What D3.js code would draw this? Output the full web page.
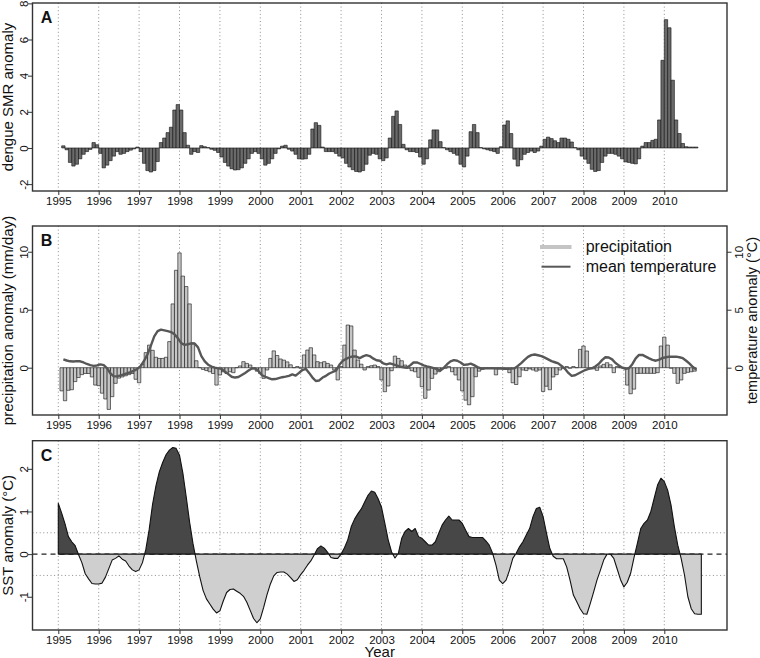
<!DOCTYPE html>
<html><head><meta charset="utf-8">
<script src="https://cdn.jsdelivr.net/npm/d3@7"></script>
<style>
html,body{margin:0;padding:0;background:#fff;}
svg{display:block;font-family:"Liberation Sans",Arial,Helvetica,sans-serif;}
</style></head><body>
<svg id="chart" width="760" height="658"></svg>
<script>
// ---------- DATA ----------
const yearTicks = [1995,1996,1997,1998,1999,2000,2001,2002,2003,2004,2005,2006,2007,2008,2009,2010];
const ticksA = [-2,0,2,4,6,8];
const ticksB = [0,5,10];
const ticksC = [-1,0,1,2];
// monthly series; first value = Feb 1995 (month index 1), last = Oct 2010
const dengueFirstMonth = 1;
const dengue = [
 0.12,-0.1,-0.8,-1.0,-0.9,-0.6,-0.35,-0.2,-0.08,0.3,0.18,
 -0.3,-1.1,-0.95,-0.7,-0.45,-0.2,-0.35,-0.3,-0.2,-0.12,-0.05,0.05,
 -0.2,-0.85,-1.25,-1.33,-1.25,-0.75,0.3,0.55,0.85,1.15,2.1,2.4,
 2.1,0.85,0.15,-0.35,-0.2,-0.25,0.13,0.07,0.02,-0.07,-0.13,-0.25,
 -0.5,-0.8,-1.0,-1.15,-1.22,-1.2,-1.1,-0.85,-0.6,-0.3,-0.2,-0.3,
 -0.6,-0.95,-0.85,-0.6,-0.3,-0.05,0.1,0.15,-0.07,-0.17,-0.35,-0.6,
 -0.62,-0.6,-0.35,1.05,1.4,1.25,0.05,-0.2,-0.2,-0.2,-0.3,-0.45,
 -0.55,-0.85,-1.05,-1.2,-1.3,-1.33,-1.25,-0.9,-0.4,-0.3,-0.35,-0.6,
 -0.7,-0.55,0.55,1.75,2.05,1.3,0.2,-0.1,-0.2,-0.2,-0.25,-0.5,
 -0.9,-0.6,0.45,1.0,1.0,0.35,0.02,-0.1,-0.2,-0.3,-0.4,-0.9,
 -1.05,-0.45,0.9,1.3,0.85,0.02,-0.05,-0.1,-0.15,-0.2,-0.3,0.07,
 1.27,1.5,0.8,-0.62,-1.0,-0.65,-0.35,-0.25,-0.17,-0.25,-0.17,0.1,
 0.48,0.6,0.52,0.4,0.3,0.55,0.55,0.48,0.33,0.02,-0.1,-0.45,
 -0.62,-0.85,-1.18,-1.3,-1.25,-0.8,-0.45,-0.3,-0.3,-0.35,-0.45,-0.6,
 -0.77,-0.8,-0.85,-0.88,-0.6,0.1,0.3,0.3,0.42,0.48,1.55,4.85,
 7.1,6.65,3.75,1.55,0.8,0.25,0.07,0.05,0.05,0.05
];
const precipFirstMonth = 1;
const precipitation = [
 -2.0,-2.85,-1.95,-1.9,-1.2,-0.85,-0.6,-0.5,-0.5,-0.8,-1.5,
 -1.55,-2.2,-2.7,-3.6,-2.5,-1.35,-0.9,-0.8,-0.7,-0.6,-0.5,-1.0,
 -1.3,0.3,1.3,1.95,1.5,0.9,0.8,0.8,0.9,2.25,5.5,8.4,
 9.9,7.9,7.0,5.5,2.15,0.6,0.0,-0.15,-0.25,-0.35,-0.5,-1.5,
 -0.63,-0.35,-0.5,-0.35,-0.43,0.0,0.15,0.52,0.37,0.23,-0.05,-0.3,
 -0.5,-0.92,-0.2,0.8,1.45,1.05,0.75,0.65,0.5,0.25,0.0,0.1,
 -0.05,1.1,1.52,1.72,1.1,0.52,0.43,0.52,0.37,0.23,-0.2,-1.06,
 0.1,1.95,3.68,3.6,1.52,0.66,0.3,-0.2,0.1,0.17,0.23,0.1,
 -1.06,-2.07,-1.58,-0.26,1.0,0.8,0.6,0.23,-0.05,-0.26,-0.35,-0.83,
 -1.64,-2.64,-1.93,-0.92,-0.55,-0.35,-0.1,-0.05,0.1,-0.35,-0.63,-1.06,
 -2.0,-2.8,-3.2,-2.5,-0.78,-0.3,-0.15,-0.05,-0.05,-0.05,-0.62,-0.05,
 -0.1,-0.1,-0.43,-1.3,-1.45,-0.78,-0.2,-0.25,-0.1,-0.2,-0.3,-0.2,
 -2.05,-1.6,-1.9,-0.8,-0.6,-0.2,-0.05,0.1,-0.05,0.1,0.0,1.58,
 1.87,1.44,-0.05,-0.1,-0.23,0.15,0.29,0.43,0.25,-0.43,0.1,0.0,
 -0.05,-1.5,-2.25,-1.85,-0.5,-0.49,-0.49,-0.49,-0.49,-0.49,-0.43,1.87,
 2.64,1.95,-0.05,-0.49,-1.35,-1.06,-0.49,-0.4,-0.35,-0.3
];
const meanTemperature = [
 0.72,0.62,0.55,0.53,0.57,0.55,0.45,0.32,0.22,0.16,0.19,
 0.29,0.22,-0.05,-0.5,-0.75,-0.75,-0.66,-0.57,-0.48,-0.38,-0.25,-0.1,
 0.15,0.6,1.15,1.9,2.7,3.15,3.28,3.22,3.15,3.07,2.88,2.55,
 2.12,1.97,2.02,2.1,2.08,1.75,1.0,0.55,0.26,0.1,0.0,-0.06,
 -0.1,-0.35,-0.55,-0.78,-0.85,-0.8,-0.63,-0.45,-0.25,-0.06,-0.07,-0.3,
 -0.65,-0.78,-0.9,-1.0,-0.98,-0.9,-0.82,-0.77,-0.7,-0.58,-0.68,-0.45,
 -0.2,-0.1,-0.45,-0.85,-1.15,-1.1,-0.85,-0.7,-0.5,-0.37,-0.25,0.25,
 0.6,0.76,0.9,0.97,0.97,0.82,0.98,1.08,1.0,0.8,0.64,0.6,
 0.38,0.28,0.37,0.28,0.2,0.09,0.04,0.0,0.2,0.45,0.45,0.34,
 0.2,0.12,0.05,-0.03,-0.12,-0.25,-0.02,0.3,0.55,0.65,0.6,0.45,
 0.24,0.27,0.35,0.22,0.05,-0.06,-0.06,-0.06,-0.06,-0.06,-0.07,-0.08,
 -0.09,-0.1,-0.08,-0.06,0.15,0.4,0.68,0.93,1.08,1.14,1.07,1.0,
 0.87,0.72,0.57,0.47,0.37,0.15,-0.1,-0.45,-0.7,-0.65,-0.5,-0.35,
 -0.2,-0.1,-0.05,0.1,0.32,0.65,0.9,0.88,0.72,0.4,0.2,0.0,
 -0.1,-0.05,0.3,0.8,1.1,1.1,0.95,0.8,0.68,0.6,0.7,0.84,
 0.9,0.95,0.95,0.95,0.9,0.82,0.6,0.35,0.05,-0.15
];
// SST anomaly: Jan 1995 (month 0) .. Dec 2010
const sstFirstMonth = 0;
const sst = [
 1.19,0.96,0.71,0.41,0.29,0.2,-0.01,-0.2,-0.46,-0.58,-0.69,-0.7,
 -0.7,-0.68,-0.54,-0.34,-0.14,-0.1,-0.04,-0.12,-0.16,-0.28,-0.37,-0.41,
 -0.37,-0.2,0.11,0.58,1.17,1.6,1.93,2.15,2.33,2.44,2.5,2.48,
 2.32,1.9,1.34,0.75,0.25,-0.16,-0.53,-0.85,-1.05,-1.17,-1.29,-1.38,
 -1.33,-1.1,-0.9,-0.83,-0.82,-0.87,-0.92,-0.99,-1.13,-1.32,-1.51,-1.61,
 -1.52,-1.25,-0.95,-0.7,-0.51,-0.43,-0.42,-0.42,-0.47,-0.55,-0.64,-0.6,
 -0.48,-0.38,-0.26,-0.16,-0.02,0.13,0.19,0.14,0.04,-0.08,-0.1,-0.1,
 0.0,0.15,0.34,0.64,0.82,0.95,1.06,1.22,1.38,1.48,1.45,1.3,
 1.1,0.72,0.33,0.05,-0.09,0.02,0.37,0.53,0.6,0.53,0.6,0.41,
 0.37,0.29,0.21,0.21,0.29,0.49,0.68,0.8,0.89,0.8,0.8,0.8,
 0.72,0.56,0.41,0.39,0.39,0.39,0.39,0.31,0.21,0.02,-0.26,-0.61,
 -0.69,-0.61,-0.38,-0.1,0.02,0.17,0.29,0.45,0.6,0.88,1.07,1.1,
 0.88,0.49,0.13,-0.05,-0.11,-0.11,-0.11,-0.3,-0.61,-0.96,-1.12,-1.28,
 -1.4,-1.41,-1.16,-0.89,-0.61,-0.38,-0.14,0.0,0.0,-0.1,-0.35,-0.6,
 -0.77,-0.66,-0.45,-0.08,0.25,0.6,0.72,0.8,1.0,1.31,1.62,1.78,
 1.7,1.5,1.15,0.64,0.21,-0.1,-0.49,-1.0,-1.28,-1.4,-1.41,-1.41
];
const legendLabels = ["precipitation","mean temperature"];

// ---------- LAYOUT ----------
const svg = d3.select("#chart");
const L = 32.5, R = 727;
const FONT_TICK = 11.5, FONT_TITLE = 15;
const x = d3.scaleLinear().domain([1995, 2010]).range([58.3, 664.3]);
const t = k => 1995 + k / 12;

const pA = {top: 3, bottom: 191};
const pB = {top: 226, bottom: 415};
const pC = {top: 440.7, bottom: 630};
const yA = d3.scaleLinear().domain([-2.38, 8.02]).range([pA.bottom, pA.top]);
const yB = d3.scaleLinear().domain([-4.08, 12.22]).range([pB.bottom, pB.top]);
const yT = d3.scaleLinear().domain([-4.08, 12.22]).range([pB.bottom, pB.top]);
const yC = d3.scaleLinear().domain([-1.78, 2.66]).range([pC.bottom, pC.top]);

function grid(p) {
  svg.append("g").selectAll("line").data(yearTicks).join("line")
    .attr("x1", d => x(d)).attr("x2", d => x(d))
    .attr("y1", p.top).attr("y2", p.bottom)
    .attr("stroke", "#8c8c8c").attr("stroke-width", 1).attr("stroke-dasharray", "1 2.6");
}
function leftAxis(scale, ticks) {
  const g = svg.append("g").attr("transform", `translate(${L},0)`)
    .call(d3.axisLeft(scale).tickValues(ticks).tickSize(4.5).tickFormat(d => String(d)));
  g.attr("font-size", null).attr("font-family", null);
  g.select(".domain").remove();
  g.selectAll(".tick line").attr("stroke", "#333");
  g.selectAll(".tick text").attr("x", null).attr("dy", null)
    .attr("text-anchor", "middle").attr("font-size", FONT_TICK).attr("fill", "#111")
    .attr("transform", "translate(-4.5,0) rotate(-90)");
}
function rightAxis(scale, ticks) {
  const g = svg.append("g").attr("transform", `translate(${R},0)`)
    .call(d3.axisRight(scale).tickValues(ticks).tickSize(4.5).tickFormat(d => String(d)));
  g.attr("font-size", null).attr("font-family", null);
  g.select(".domain").remove();
  g.selectAll(".tick line").attr("stroke", "#333");
  g.selectAll(".tick text").attr("x", null).attr("dy", null)
    .attr("text-anchor", "middle").attr("font-size", FONT_TICK).attr("fill", "#111")
    .attr("transform", "translate(15.5,0) rotate(-90)");
}
function bottomAxis(p) {
  const g = svg.append("g").attr("transform", `translate(0,${p.bottom})`)
    .call(d3.axisBottom(x).tickValues(yearTicks).tickSize(4).tickPadding(2).tickFormat(d => String(d)));
  g.attr("font-size", null).attr("font-family", null);
  g.select(".domain").remove();
  g.selectAll(".tick line").attr("stroke", "#333");
  g.selectAll(".tick text").attr("font-size", FONT_TICK).attr("fill", "#111");
}
function box(p) {
  svg.append("rect").attr("x", L).attr("y", p.top).attr("width", R - L).attr("height", p.bottom - p.top)
    .attr("fill", "none").attr("stroke", "#333").attr("stroke-width", 1.4);
}
function yTitle(txt, xPos, p, size) {
  svg.append("text").attr("transform", `translate(${xPos},${(p.top + p.bottom) / 2}) rotate(-90)`)
    .attr("text-anchor", "middle").attr("font-size", size || FONT_TITLE).attr("fill", "#111").text(txt);
}
function letter(txt, yPos) {
  svg.append("text").attr("x", 40.8).attr("y", yPos).attr("font-size", 16).attr("font-weight", "bold")
    .attr("fill", "#111").text(txt);
}
const barPath = (x0, x1, y0, y1) => `M${x0},${y0}H${x1}V${y1}H${x0}Z`;

// ---------- PANEL A ----------
grid(pA);
svg.append("g").selectAll("path").data(dengue).join("path")
  .attr("d", (v, i) => {
    const k = i + dengueFirstMonth;
    return barPath(x(t(k)), x(t(k + 1)), yA(0), yA(v));
  })
  .attr("fill", "#6a6a6a").attr("stroke", "#111").attr("stroke-width", 0.6);
leftAxis(yA, ticksA);
bottomAxis(pA);
box(pA);
yTitle("dengue SMR anomaly", 12.5, pA);
letter("A", 23.3);

// ---------- PANEL B ----------
grid(pB);
svg.append("g").selectAll("path").data(precipitation).join("path")
  .attr("d", (v, i) => {
    const k = i + precipFirstMonth;
    return barPath(x(t(k - 0.5)), x(t(k + 0.5)), yB(0), yB(v));
  })
  .attr("fill", "#c6c6c6").attr("stroke", "#111").attr("stroke-width", 0.6);
const tempLine = d3.line()
  .x((v, i) => x(t(i + precipFirstMonth + 0.5)))
  .y(v => yT(v));
svg.append("path").attr("d", tempLine(meanTemperature))
  .attr("fill", "none").attr("stroke", "#575757").attr("stroke-width", 2.4).attr("stroke-linejoin", "round");
leftAxis(yB, ticksB);
rightAxis(yT, ticksB);
bottomAxis(pB);
box(pB);
yTitle("precipitation anomaly (mm/day)", 12.5, pB);
yTitle("temperature anomaly (°C)", 756.5, pB, 14.5);
letter("B", 245.7);
// legend
const lg = svg.append("g");
lg.append("line").attr("x1", 540).attr("x2", 571.5).attr("y1", 247).attr("y2", 247)
  .attr("stroke", "#c4c4c4").attr("stroke-width", 4);
lg.append("line").attr("x1", 541.5).attr("x2", 570.5).attr("y1", 266.7).attr("y2", 266.7)
  .attr("stroke", "#575757").attr("stroke-width", 2);
lg.selectAll("text").data(legendLabels).join("text")
  .attr("x", 585.7).attr("y", (d, i) => 252 + i * 19.8)
  .attr("font-size", 16).attr("fill", "#111").text(d => d);

// ---------- PANEL C ----------
grid(pC);
svg.append("g").selectAll("line").data([0.5, -0.5]).join("line")
  .attr("x1", L).attr("x2", R).attr("y1", d => yC(d)).attr("y2", d => yC(d))
  .attr("stroke", "#8c8c8c").attr("stroke-width", 1).attr("stroke-dasharray", "1 2.6");
svg.append("line").attr("x1", L).attr("x2", R).attr("y1", yC(0)).attr("y2", yC(0))
  .attr("stroke", "#222").attr("stroke-width", 1.2).attr("stroke-dasharray", "5 4");
const defs = svg.append("defs");
defs.append("clipPath").attr("id", "clipPos").append("rect")
  .attr("x", L).attr("y", pC.top).attr("width", R - L).attr("height", yC(0) - pC.top);
defs.append("clipPath").attr("id", "clipNeg").append("rect")
  .attr("x", L).attr("y", yC(0)).attr("width", R - L).attr("height", pC.bottom - yC(0));
const sstArea = d3.area()
  .x((v, i) => x(t(i + sstFirstMonth)))
  .y0(yC(0)).y1(v => yC(v));
const areaD = sstArea(sst);
svg.append("path").attr("d", areaD).attr("fill", "#474747").attr("clip-path", "url(#clipPos)");
svg.append("path").attr("d", areaD).attr("fill", "#cfcfcf").attr("clip-path", "url(#clipNeg)");
svg.append("path").attr("d", areaD).attr("fill", "none").attr("stroke", "#111").attr("stroke-width", 1.1)
  .attr("stroke-linejoin", "round");
leftAxis(yC, ticksC);
bottomAxis(pC);
box(pC);
yTitle("SST anomaly (°C)", 12.5, pC);
letter("C", 461);
svg.append("text").attr("x", (L + R) / 2).attr("y", 656.5).attr("text-anchor", "middle")
  .attr("font-size", FONT_TITLE).attr("fill", "#111").text("Year");
</script>
</body></html>
